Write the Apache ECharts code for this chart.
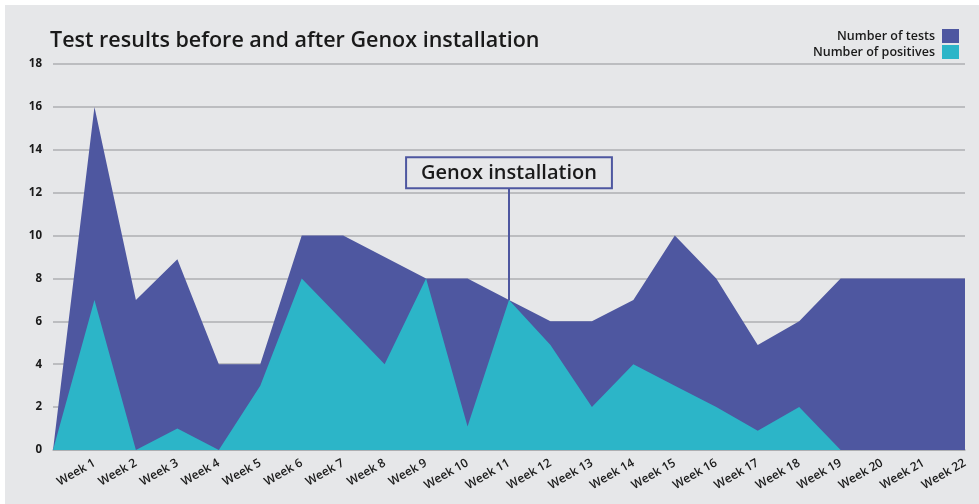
<!DOCTYPE html>
<html><head><meta charset="utf-8">
<script src="https://cdn.jsdelivr.net/npm/echarts@6/dist/echarts.min.js"></script>
<style>
html,body{margin:0;padding:0;background:#fff;}
#c{position:absolute;left:0;top:0;width:979px;height:504px;background:#e6e7e9;}
.w{position:absolute;background:#fff;pointer-events:none;}
</style></head>
<body>
<div id="c"></div>
<div class="w" style="left:0;top:0;width:979px;height:5px"></div>
<div class="w" style="left:0;top:0;width:5px;height:504px"></div>
<script>
const categories = ['', 'Week 1','Week 2','Week 3','Week 4','Week 5','Week 6','Week 7','Week 8','Week 9','Week 10','Week 11','Week 12','Week 13','Week 14','Week 15','Week 16','Week 17','Week 18','Week 19','Week 20','Week 21','Week 22'];
const tests     = [0, 16, 7, 8.9, 4, 4, 10, 10, 9, 8, 8, 7, 6, 6, 7, 10, 8, 4.9, 6, 8, 8, 8, 8];
const positives = [0, 7, 0, 1, 0, 3, 8, 6, 4, 8, 1.1, 7, 4.9, 2, 4, 3, 2, 0.9, 2, 0, 0, 0, 0];
const yTicks = {min: 0, max: 18, interval: 2};
const annotationText = 'Genox installation';
const annotationCat = 11;
const annotationFrom = 7;
const annotationTo = 12.25;

const FONT = '"Open Sans"';
const chart = echarts.init(document.getElementById('c'), null, {renderer: 'canvas'});
chart.setOption({
  backgroundColor: 'transparent',
  animation: false,
  title: {
    text: 'Test results before and after Genox installation',
    left: 45, top: 25,
    textStyle: {fontFamily: FONT, fontSize: 21.5, fontWeight: 600, color: '#1a1a1a'}
  },
  legend: {
    data: [{name: 'Number of tests', icon: 'rect'}, {name: 'Number of positives', icon: 'rect'}],
    orient: 'vertical', align: 'right', right: 15, top: 24,
    itemWidth: 17, itemHeight: 14, itemGap: 2,
    textStyle: {fontFamily: FONT, fontSize: 12.5, fontWeight: 600, color: '#1a1a1a', padding: [0, 2, 0, 0]}
  },
  grid: {left: 53, right: 14, top: 64, bottom: 54, containLabel: false},
  xAxis: {
    type: 'category', data: categories, boundaryGap: false,
    axisLine: {show: true, lineStyle: {color: '#a9aaad', width: 1.5}},
    axisTick: {show: false},
    axisLabel: {interval: 0, rotate: 30, margin: 12, fontFamily: FONT, fontSize: 12, fontWeight: 600, color: '#1a1a1a'}
  },
  yAxis: {
    type: 'value', min: yTicks.min, max: yTicks.max, interval: yTicks.interval,
    axisLine: {show: false}, axisTick: {show: false},
    axisLabel: {margin: 11, fontFamily: FONT, fontSize: 11.5, fontWeight: 700, color: '#1a1a1a'},
    splitLine: {lineStyle: {color: '#aeafb2', width: 1.5}}
  },
  series: [
    {
      name: 'Number of tests', type: 'line', data: tests, symbol: 'none',
      lineStyle: {width: 0}, itemStyle: {color: '#4e57a0'},
      areaStyle: {color: '#4e57a0', opacity: 1},
      markLine: {
        silent: true, symbol: 'none',
        lineStyle: {color: '#4e57a0', width: 2, type: 'solid'},
        label: {
          show: true, position: 'end', distance: 0, formatter: annotationText,
          fontFamily: FONT, fontSize: 20, fontWeight: 600, color: '#1a1a1a',
          backgroundColor: '#e6e7e9', borderColor: '#4e57a0', borderWidth: 2,
          padding: [5, 14, 4, 14]
        },
        data: [[{coord: [annotationCat, annotationFrom]}, {coord: [annotationCat, annotationTo]}]]
      },
      z: 2
    },
    {
      name: 'Number of positives', type: 'line', data: positives, symbol: 'none',
      lineStyle: {width: 0}, itemStyle: {color: '#2cb5c8'},
      areaStyle: {color: '#2cb5c8', opacity: 1},
      z: 3
    }
  ]
});
</script>
</body></html>
